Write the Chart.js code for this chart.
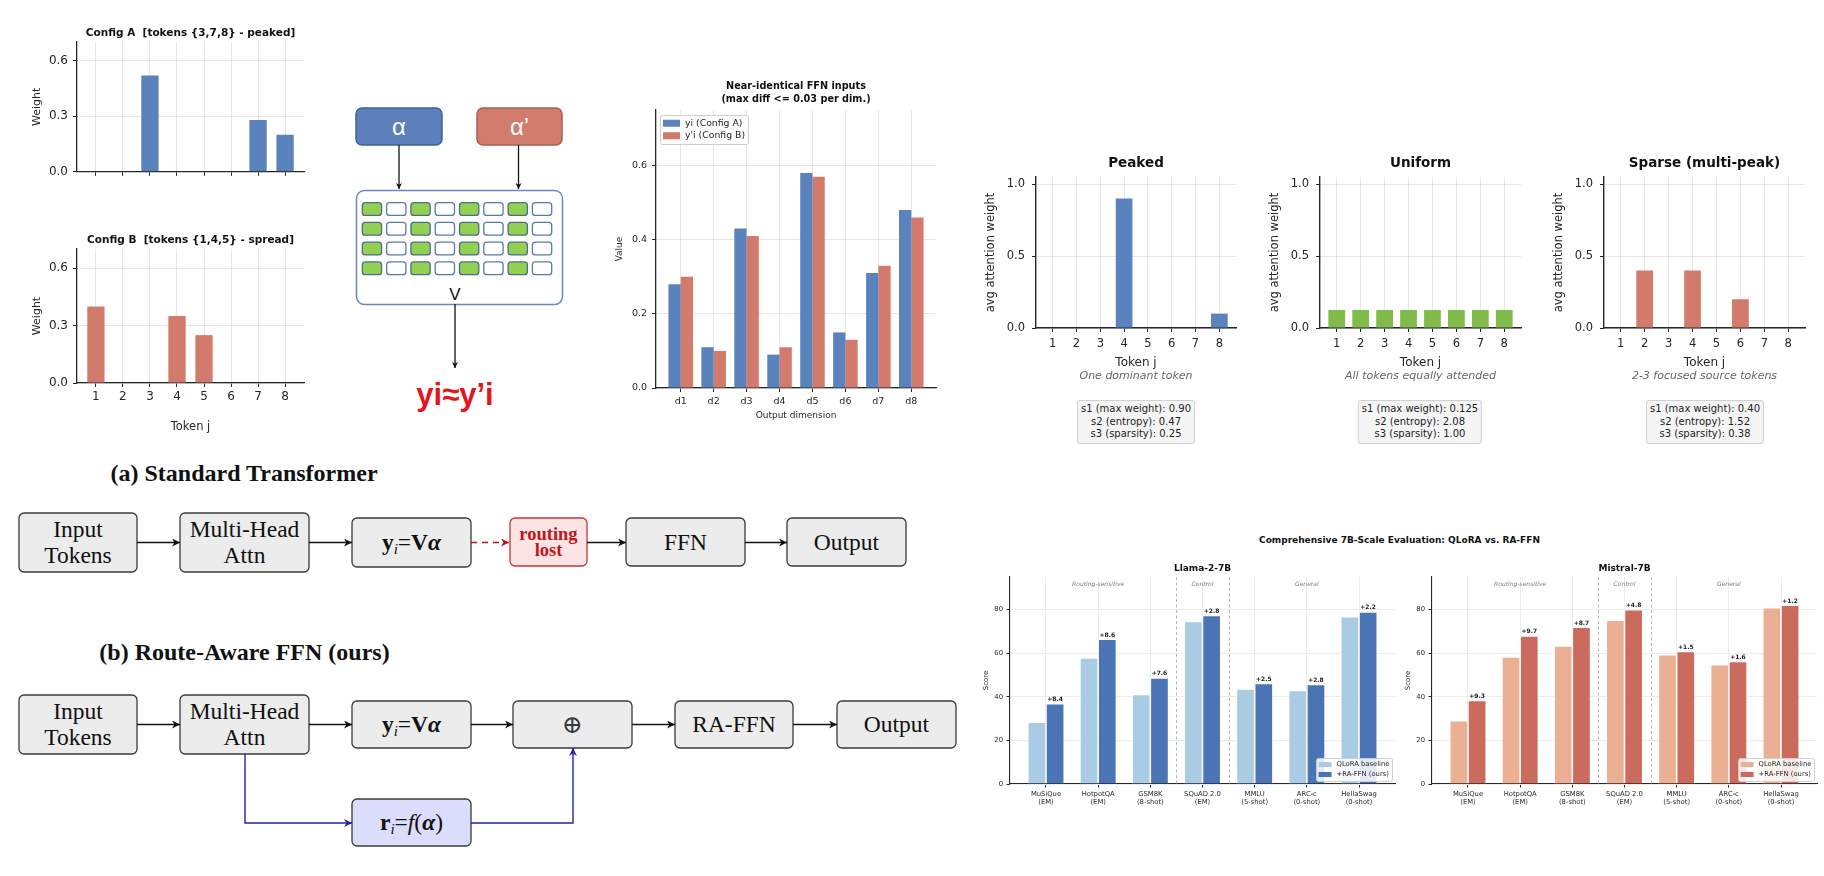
<!DOCTYPE html>
<html>
<head>
<meta charset="utf-8">
<title>Route-aware FFN figure</title>
<script src="https://cdn.jsdelivr.net/npm/chart.js@4.4.1/dist/chart.umd.min.js"></script>
<style>
  html, body { margin: 0; padding: 0; background: #fff; }
  body { position: relative; width: 1824px; height: 876px; overflow: hidden; font-family: "DejaVu Sans", sans-serif; color: #262626; }
  canvas, svg, .lbl, .stat { position: absolute; }
  svg { left: 0; top: 0; }
  .lbl { transform: translate(-50%, -50%); white-space: nowrap; }
  .sub { font-style: italic; font-size: 11px; color: #666; }
  .sup { font-weight: bold; font-size: 9px; color: #111; }
  .stat { transform: translateX(-50%); top: 400px; font-size: 10px; line-height: 12.7px; text-align: center; white-space: nowrap;
          padding: 2px 3px; border: 1px solid #d0d0d0; border-radius: 3px; background: #f5f5f5; color: #222; }
</style>
</head>
<body>

<svg width="1824" height="876" viewBox="0 0 1824 876" font-family="Liberation Serif, serif">
  <defs>
    <marker id="ah" viewBox="0 0 10 10" refX="10" refY="5" markerWidth="8" markerHeight="8" markerUnits="userSpaceOnUse" orient="auto">
      <path d="M0,0 L10,5 L0,10 L3,5 z" fill="#111"/>
    </marker>
    <marker id="ahSmall" viewBox="0 0 10 10" refX="10" refY="5" markerWidth="6" markerHeight="6" markerUnits="userSpaceOnUse" orient="auto">
      <path d="M0,0 L10,5 L0,10 L3,5 z" fill="#111"/>
    </marker>
    <marker id="ahRed" viewBox="0 0 10 10" refX="10" refY="5" markerWidth="8" markerHeight="8" markerUnits="userSpaceOnUse" orient="auto">
      <path d="M0,0 L10,5 L0,10 L3,5 z" fill="#b3151d"/>
    </marker>
    <marker id="ahBlue" viewBox="0 0 10 10" refX="10" refY="5" markerWidth="8" markerHeight="8" markerUnits="userSpaceOnUse" orient="auto">
      <path d="M0,0 L10,5 L0,10 L3,5 z" fill="#2323a8"/>
    </marker>
  </defs>

  <!-- alpha -> V -> y sketch -->
  <rect x="356" y="108" width="86" height="37" rx="6" fill="#5b80bc" stroke="#40629c" stroke-width="1.5"/>
  <text x="399" y="135" text-anchor="middle" fill="#fff" font-family="Liberation Sans" font-size="24">α</text>
  <rect x="477" y="108" width="85" height="37" rx="6" fill="#d17c6c" stroke="#a95d50" stroke-width="1.5"/>
  <text x="519.5" y="135" text-anchor="middle" fill="#fff" font-family="Liberation Sans" font-size="24">α’</text>
  <line x1="399" y1="145" x2="399" y2="189" stroke="#111" stroke-width="1.3" marker-end="url(#ahSmall)"/>
  <line x1="518.5" y1="145" x2="518.5" y2="189" stroke="#111" stroke-width="1.3" marker-end="url(#ahSmall)"/>
  <rect x="356.5" y="190.5" width="206" height="114" rx="8" fill="#fff" stroke="#6a86bd" stroke-width="1.5"/>
  <g id="cells"></g>
  <text x="455" y="300" text-anchor="middle" fill="#111" font-family="Liberation Sans" font-size="17">V</text>
  <line x1="455" y1="304" x2="455" y2="368" stroke="#111" stroke-width="1.3" marker-end="url(#ahSmall)"/>
  <text x="455" y="405" text-anchor="middle" fill="#e3161e" font-family="Liberation Sans" font-weight="bold" font-size="31">yi≈y’i</text>

  <!-- (a) standard transformer -->
  <text x="244" y="481" text-anchor="middle" font-size="24" font-weight="bold" fill="#111">(a) Standard Transformer</text>
  <g fill="#ececec" stroke="#3a3a3a" stroke-width="1.3">
    <rect x="19" y="513" width="118" height="59" rx="5"/>
    <rect x="180" y="513" width="129" height="59" rx="5"/>
    <rect x="352" y="518" width="119" height="49" rx="5"/>
    <rect x="626" y="518" width="119" height="48" rx="5"/>
    <rect x="787" y="518" width="119" height="48" rx="5"/>
  </g>
  <rect x="510" y="518" width="77" height="48" rx="5" fill="#fbe4e4" stroke="#c8333b" stroke-width="1.3"/>
  <g stroke="#111" stroke-width="1.3" marker-end="url(#ah)">
    <line x1="137" y1="542.5" x2="180" y2="542.5"/>
    <line x1="309" y1="542.5" x2="352" y2="542.5"/>
    <line x1="587" y1="542.5" x2="626" y2="542.5"/>
    <line x1="745" y1="542.5" x2="787" y2="542.5"/>
  </g>
  <line x1="471" y1="542.5" x2="509" y2="542.5" stroke="#b3151d" stroke-width="1.4" stroke-dasharray="6 5" marker-end="url(#ahRed)"/>
  <g font-size="23.5" fill="#111" text-anchor="middle">
    <text x="78" y="537">Input</text>
    <text x="78" y="563">Tokens</text>
    <text x="244.5" y="537">Multi-Head</text>
    <text x="244.5" y="563">Attn</text>
    <text x="411.5" y="550"><tspan font-weight="bold">y</tspan><tspan font-style="italic" font-size="15" dy="4">i</tspan><tspan dy="-4">=</tspan><tspan font-weight="bold">V</tspan><tspan font-weight="bold" font-style="italic">α</tspan></text>
    <text x="685.5" y="550">FFN</text>
    <text x="846.5" y="550">Output</text>
  </g>
  <g font-size="18.5" font-weight="bold" fill="#c0151f" text-anchor="middle">
    <text x="548.5" y="540">routing</text>
    <text x="548.5" y="556">lost</text>
  </g>

  <!-- (b) route-aware FFN -->
  <text x="244.5" y="660" text-anchor="middle" font-size="24" font-weight="bold" fill="#111">(b) Route-Aware FFN (ours)</text>
  <g fill="#ececec" stroke="#3a3a3a" stroke-width="1.3">
    <rect x="19" y="695" width="118" height="59" rx="5"/>
    <rect x="180" y="695" width="129" height="59" rx="5"/>
    <rect x="352" y="701" width="119" height="47" rx="5"/>
    <rect x="513" y="701" width="119" height="47" rx="5"/>
    <rect x="675" y="701" width="118" height="47" rx="5"/>
    <rect x="837" y="701" width="119" height="47" rx="5"/>
  </g>
  <rect x="352" y="799" width="119" height="47" rx="5" fill="#dcdcfc" stroke="#3a3a3a" stroke-width="1.3"/>
  <g stroke="#111" stroke-width="1.3" marker-end="url(#ah)">
    <line x1="137" y1="724.5" x2="180" y2="724.5"/>
    <line x1="309" y1="724.5" x2="352" y2="724.5"/>
    <line x1="471" y1="724.5" x2="513" y2="724.5"/>
    <line x1="632" y1="724.5" x2="675" y2="724.5"/>
    <line x1="793" y1="724.5" x2="837" y2="724.5"/>
  </g>
  <g stroke="#2323a8" stroke-width="1.4" fill="none" marker-end="url(#ahBlue)">
    <polyline points="245,754 245,823 352,823"/>
    <polyline points="471,823 573,823 573,748"/>
  </g>
  <g font-size="23.5" fill="#111" text-anchor="middle">
    <text x="78" y="719">Input</text>
    <text x="78" y="745">Tokens</text>
    <text x="244.5" y="719">Multi-Head</text>
    <text x="244.5" y="745">Attn</text>
    <text x="411.5" y="732"><tspan font-weight="bold">y</tspan><tspan font-style="italic" font-size="15" dy="4">i</tspan><tspan dy="-4">=</tspan><tspan font-weight="bold">V</tspan><tspan font-weight="bold" font-style="italic">α</tspan></text>
    <text x="572.5" y="733" font-family="DejaVu Serif" font-size="25" fill="#3a3a3a">⊕</text>
    <text x="734" y="732">RA-FFN</text>
    <text x="896.5" y="732">Output</text>
    <text x="411.5" y="830"><tspan font-weight="bold">r</tspan><tspan font-style="italic" font-size="15" dy="4">i</tspan><tspan dy="-4">=</tspan><tspan font-style="italic">f</tspan>(<tspan font-weight="bold" font-style="italic">α</tspan>)</text>
  </g>
</svg>

<canvas id="cfgA"></canvas>
<canvas id="cfgB"></canvas>
<canvas id="ffn"></canvas>
<canvas id="peaked"></canvas>
<canvas id="uniform"></canvas>
<canvas id="sparse"></canvas>
<canvas id="llama"></canvas>
<canvas id="mistral"></canvas>

<div class="lbl sub" id="note0" style="left:1136px; top:375px;"></div>
<div class="lbl sub" id="note1" style="left:1420.5px; top:375px;"></div>
<div class="lbl sub" id="note2" style="left:1704.5px; top:375px;"></div>
<div class="stat" id="stat0" style="left:1136px;"></div>
<div class="stat" id="stat1" style="left:1420px;"></div>
<div class="stat" id="stat2" style="left:1705px;"></div>
<div class="lbl sup" style="left:1399.5px; top:540px;">Comprehensive 7B-Scale Evaluation: QLoRA vs. RA-FFN</div>

<script>
// ---------- data ----------
const tokens = ['1', '2', '3', '4', '5', '6', '7', '8'];
const weightsA = [0, 0, 0.52, 0, 0, 0, 0.28, 0.20];
const weightsB = [0.40, 0, 0, 0.35, 0.25, 0, 0, 0];

const dims = ['d1', 'd2', 'd3', 'd4', 'd5', 'd6', 'd7', 'd8'];
const yiA = [0.28, 0.11, 0.43, 0.09, 0.58, 0.15, 0.31, 0.48];
const yiB = [0.30, 0.10, 0.41, 0.11, 0.57, 0.13, 0.33, 0.46];

const peaked = [0, 0, 0, 0.90, 0, 0, 0, 0.10];
const uniform = [0.125, 0.125, 0.125, 0.125, 0.125, 0.125, 0.125, 0.125];
const sparse = [0, 0.40, 0, 0.40, 0, 0.20, 0, 0];
const patternNotes = ['One dominant token', 'All tokens equally attended', '2-3 focused source tokens'];
const statsPeaked = ['s1 (max weight): 0.90', 's2 (entropy): 0.47', 's3 (sparsity): 0.25'];
const statsUniform = ['s1 (max weight): 0.125', 's2 (entropy): 2.08', 's3 (sparsity): 1.00'];
const statsSparse = ['s1 (max weight): 0.40', 's2 (entropy): 1.52', 's3 (sparsity): 0.38'];

const benchmarks = [['MuSiQue', '(EM)'], ['HotpotQA', '(EM)'], ['GSM8K', '(8-shot)'], ['SQuAD 2.0', '(EM)'],
                    ['MMLU', '(5-shot)'], ['ARC-c', '(0-shot)'], ['HellaSwag', '(0-shot)']];
const groupNames = ['Routing-sensitive', 'Control', 'General'];
const groupSpans = [[1, 3], [4, 4], [5, 7]];
const llamaBase = [28.4, 57.8, 41.1, 74.6, 43.6, 42.9, 76.8];
const llamaRA = [36.8, 66.4, 48.7, 77.4, 46.1, 45.7, 79.0];
const llamaGain = ['+8.4', '+8.6', '+7.6', '+2.8', '+2.5', '+2.8', '+2.2'];
const mistralBase = [29.0, 58.3, 63.3, 75.2, 59.3, 54.7, 80.9];
const mistralRA = [38.3, 68.0, 72.0, 80.0, 60.8, 56.3, 82.1];
const mistralGain = ['+9.3', '+9.7', '+8.7', '+4.8', '+1.5', '+1.6', '+1.2'];

// value-matrix pattern of the V sketch (g = highlighted column)
const vColumns = ['g', 'w', 'g', 'w', 'g', 'w', 'g', 'w'];
const vRows = 4;

// ---------- style ----------
const INK = '#262626';
const BLUE = '#5a82bc';
const RED = '#d27b6c';
const GREEN = '#80bb4c';
const GRID_ON_TOP = 'rgba(205,205,205,0.5)';

Chart.defaults.font.family = "'DejaVu Sans', sans-serif";
Chart.defaults.color = INK;

// ---------- small helpers ----------
function place(id, plot, m) {
  const cv = document.getElementById(id);
  cv.width = Math.round(plot[2] - plot[0] + m.l + m.r);
  cv.height = Math.round(plot[3] - plot[1] + m.t + m.b);
  cv.style.left = (plot[0] - m.l) + 'px';
  cv.style.top = (plot[1] - m.t) + 'px';
  return cv;
}

function points(values) {
  return values.map((v, i) => ({ x: i + 1, y: v }));
}

function boxLegend(o) {
  return {
    id: 'boxLegend',
    afterDraw(chart) {
      const { ctx, chartArea: a } = chart;
      const sets = chart.data.datasets;
      ctx.save();
      ctx.font = o.size + "px 'DejaVu Sans'";
      const tw = Math.max(...sets.map((d) => ctx.measureText(d.label).width));
      const w = o.pad * 2 + o.sw + o.gap + tw + 2;
      const h = o.pad * 2 + o.row * sets.length;
      const x = o.corner === 'tl' ? a.left + o.inset[0] : a.right - o.inset[0] - w;
      const y = o.corner === 'tl' ? a.top + o.inset[1] : a.bottom - o.inset[1] - h;
      ctx.fillStyle = 'rgba(255,255,255,0.85)';
      ctx.strokeStyle = '#cfcfcf';
      ctx.lineWidth = 1;
      ctx.beginPath();
      ctx.roundRect(x + 0.5, y + 0.5, w, h, 2);
      ctx.fill();
      ctx.stroke();
      sets.forEach((d, i) => {
        const cy = y + o.pad + o.row * (i + 0.5);
        ctx.fillStyle = d.backgroundColor;
        ctx.fillRect(x + o.pad + 1, cy - o.sh / 2, o.sw, o.sh);
        ctx.fillStyle = INK;
        ctx.textBaseline = 'middle';
        ctx.fillText(d.label, x + o.pad + 1 + o.sw + o.gap, cy);
      });
      ctx.restore();
    }
  };
}

function gainNotes(labels, size) {
  return {
    id: 'gainNotes',
    afterDatasetsDraw(chart) {
      const { ctx } = chart;
      ctx.save();
      ctx.font = 'bold ' + size + "px 'DejaVu Sans'";
      ctx.fillStyle = '#1a1a1a';
      ctx.textAlign = 'center';
      ctx.textBaseline = 'bottom';
      chart.getDatasetMeta(1).data.forEach((bar, i) => ctx.fillText(labels[i], bar.x, bar.y - 1));
      ctx.restore();
    }
  };
}

function groupBands(names, spans, size) {
  return {
    id: 'groupBands',
    beforeDatasetsDraw(chart) {
      const { ctx, chartArea: a } = chart;
      const x = chart.scales.x;
      ctx.save();
      ctx.strokeStyle = '#b5b5b5';
      ctx.lineWidth = 1;
      ctx.setLineDash([3, 2.5]);
      spans.slice(0, -1).forEach((s) => {
        const px = Math.round(x.getPixelForValue(s[1] + 0.5)) + 0.5;
        ctx.beginPath();
        ctx.moveTo(px, a.top);
        ctx.lineTo(px, a.bottom);
        ctx.stroke();
      });
      ctx.setLineDash([]);
      ctx.font = 'italic ' + size + "px 'DejaVu Sans'";
      ctx.fillStyle = '#7a7a7a';
      ctx.textAlign = 'center';
      ctx.textBaseline = 'middle';
      names.forEach((n, i) => ctx.fillText(n, x.getPixelForValue((spans[i][0] + spans[i][1]) / 2), a.top + 7));
      ctx.restore();
    }
  };
}

// generic matplotlib-like bar panel on a numeric index axis
function barPanel(id, plot, m, s) {
  const canvas = place(id, plot, m);
  const titleBlock = s.title.lines * s.title.size * s.title.lh;
  return new Chart(canvas, {
    type: 'bar',
    data: { datasets: s.datasets },
    options: {
      responsive: false,
      animation: false,
      events: [],
      layout: { padding: { top: 0, right: m.r, bottom: 0, left: 0 } },
      plugins: {
        legend: { display: false },
        tooltip: { enabled: false },
        title: {
          display: true,
          fullSize: false,
          text: s.title.text,
          color: '#111',
          font: { size: s.title.size, weight: 'bold', lineHeight: s.title.lh },
          padding: { top: 0, bottom: m.t - titleBlock },
        },
      },
      scales: {
        x: {
          type: 'linear',
          min: s.xmin,
          max: s.xmax,
          offset: false,
          z: s.z,
          afterBuildTicks: (sc) => { sc.ticks = s.labels.map((_, i) => ({ value: i + 1 })); },
          afterFit: (sc) => { sc.height = m.b; },
          grid: { offset: false, color: s.grid, tickColor: INK, tickLength: s.tickLen },
          border: { color: INK, width: s.spine },
          ticks: {
            display: s.xLabels,
            autoSkip: false,
            maxRotation: 0,
            padding: s.xPad,
            color: INK,
            font: { size: s.tick, lineHeight: 1.2 },
            callback: (v) => s.labels[v - 1],
          },
          title: {
            display: !!s.xTitle,
            text: s.xTitle,
            color: INK,
            font: { size: s.xTitleSize },
            padding: { top: 0, bottom: s.xTitlePad },
          },
        },
        y: {
          min: 0,
          max: s.ymax,
          z: s.z,
          afterFit: (sc) => { sc.width = m.l; },
          grid: { color: s.grid, tickColor: INK, tickLength: s.tickLen },
          border: { color: INK, width: s.spine },
          ticks: {
            stepSize: s.step,
            includeBounds: false,
            padding: s.yPad,
            color: INK,
            font: { size: s.tick },
            callback: (v) => v.toFixed(s.dec),
          },
          title: {
            display: true,
            text: s.yTitle,
            color: INK,
            font: { size: s.yTitleSize },
            padding: { top: s.yTitlePad, bottom: 0 },
          },
        },
      },
    },
    plugins: s.extra || [],
  });
}

function oneBarSet(values, color, pct) {
  return [{ label: 'weight', data: points(values), backgroundColor: color, borderWidth: 0, categoryPercentage: pct, barPercentage: 1 }];
}

// ---------- config A / config B ----------
const configPanel = {
  xmin: 0.3, xmax: 8.7, labels: tokens, ymax: 0.7, step: 0.3, dec: 1,
  z: 1, grid: GRID_ON_TOP, tickLen: 4, spine: 1.3, tick: 12, xPad: 3, yPad: 5,
  yTitle: 'Weight', yTitleSize: 11, yTitlePad: 4.4,
};
barPanel('cfgA', [77, 42, 304, 176], { l: 51, t: 15, r: 12, b: 8 }, Object.assign({}, configPanel, {
  title: { text: 'Config A  [tokens {3,7,8} - peaked]', size: 10.5, lines: 1, lh: 1.2 },
  datasets: oneBarSet(weightsA, BLUE, 0.64),
  xLabels: false,
}));
barPanel('cfgB', [77, 249, 304, 383], { l: 51, t: 15, r: 12, b: 53 }, Object.assign({}, configPanel, {
  title: { text: 'Config B  [tokens {1,4,5} - spread]', size: 10.5, lines: 1, lh: 1.2 },
  datasets: oneBarSet(weightsB, RED, 0.64),
  xLabels: true, xTitle: 'Token j', xTitleSize: 11.5, xTitlePad: 2.1,
}));

// ---------- near-identical FFN inputs ----------
barPanel('ffn', [656, 110, 936, 388], { l: 46, t: 30, r: 14, b: 36 }, {
  title: { text: ['Near-identical FFN inputs', '(max diff <= 0.03 per dim.)'], size: 9.7, lines: 2, lh: 1.35 },
  datasets: [
    { label: 'yi (Config A)', data: points(yiA), backgroundColor: BLUE, borderWidth: 0, categoryPercentage: 0.745, barPercentage: 1 },
    { label: "y'i (Config B)", data: points(yiB), backgroundColor: RED, borderWidth: 0, categoryPercentage: 0.745, barPercentage: 1 },
  ],
  xmin: 0.25, xmax: 8.75, labels: dims, ymax: 0.75, step: 0.2, dec: 1,
  z: 1, grid: GRID_ON_TOP, tickLen: 4, spine: 1.3, tick: 9.5, xPad: 4.3, yPad: 5,
  xLabels: true, xTitle: 'Output dimension', xTitleSize: 9, xTitlePad: 2.6,
  yTitle: 'Value', yTitleSize: 9, yTitlePad: 4.6,
  extra: [boxLegend({ corner: 'tl', inset: [4, 5], pad: 2, row: 12.5, sw: 17, sh: 7, gap: 5, size: 9.3 })],
});

// ---------- attention patterns ----------
const patternPanel = {
  xmin: 0.3, xmax: 8.7, labels: tokens, ymax: 1.05, step: 0.5, dec: 1,
  z: 1, grid: GRID_ON_TOP, tickLen: 4, spine: 1.4, tick: 11.5, xPad: 5, yPad: 7,
  xLabels: true, xTitle: 'Token j', xTitleSize: 12, xTitlePad: 1.8,
  yTitle: 'avg attention weight', yTitleSize: 11.5, yTitlePad: 3.1,
};
const patternMargins = { l: 55, t: 22, r: 14, b: 44 };
barPanel('peaked', [1036, 177, 1236, 328], patternMargins, Object.assign({}, patternPanel, {
  title: { text: 'Peaked', size: 13.5, lines: 1, lh: 1.2 },
  datasets: oneBarSet(peaked, BLUE, 0.7),
}));
barPanel('uniform', [1320, 177, 1521, 328], patternMargins, Object.assign({}, patternPanel, {
  title: { text: 'Uniform', size: 13.5, lines: 1, lh: 1.2 },
  datasets: oneBarSet(uniform, GREEN, 0.7),
}));
barPanel('sparse', [1604, 177, 1805, 328], patternMargins, Object.assign({}, patternPanel, {
  title: { text: 'Sparse (multi-peak)', size: 13.5, lines: 1, lh: 1.2 },
  datasets: oneBarSet(sparse, RED, 0.7),
}));

[statsPeaked, statsUniform, statsSparse].forEach((lines, i) => {
  document.getElementById('stat' + i).innerHTML = lines.join('<br>');
  document.getElementById('note' + i).textContent = patternNotes[i];
});

// ---------- 7B evaluation ----------
function evalPanel(id, plot, name, base, ra, gains, colors) {
  return barPanel(id, plot, { l: 30, t: 14, r: 6, b: 31 }, {
    title: { text: name, size: 9, lines: 1, lh: 1.2 },
    datasets: [
      { label: 'QLoRA baseline', data: points(base), backgroundColor: colors[0], borderColor: 'rgba(255,255,255,0.9)', borderWidth: 0.8, borderSkipped: 'start', categoryPercentage: 0.7, barPercentage: 1 },
      { label: '+RA-FFN (ours)', data: points(ra), backgroundColor: colors[1], borderColor: 'rgba(255,255,255,0.9)', borderWidth: 0.8, borderSkipped: 'start', categoryPercentage: 0.7, barPercentage: 1 },
    ],
    xmin: 0.31, xmax: 7.69, labels: benchmarks, ymax: 95, step: 20, dec: 0,
    z: 0, grid: '#ececec', tickLen: 3.5, spine: 1.1, tick: 6.8, xPad: 2.5, yPad: 3.5,
    xLabels: true, xTitle: '',
    yTitle: 'Score', yTitleSize: 7, yTitlePad: 1.8,
    extra: [
      groupBands(groupNames, groupSpans, 6),
      gainNotes(gains, 6),
      boxLegend({ corner: 'br', inset: [3, 3], pad: 1.5, row: 10, sw: 13, sh: 5, gap: 5, size: 6.8 }),
    ],
  });
}
evalPanel('llama', [1010, 577, 1395, 784], 'Llama-2-7B', llamaBase, llamaRA, llamaGain, ['#a9cbe3', '#4a74b4']);
evalPanel('mistral', [1432, 577, 1817, 784], 'Mistral-7B', mistralBase, mistralRA, mistralGain, ['#ebb093', '#cb6b5d']);

// ---------- V matrix cells of the sketch ----------
const NS = 'http://www.w3.org/2000/svg';
const cellLayer = document.getElementById('cells');
for (let r = 0; r < vRows; r++) {
  vColumns.forEach((kind, c) => {
    const cell = document.createElementNS(NS, 'rect');
    cell.setAttribute('x', 362.3 + c * 24.3);
    cell.setAttribute('y', 202.7 + r * 19.75);
    cell.setAttribute('width', 19.3);
    cell.setAttribute('height', 12.7);
    cell.setAttribute('rx', 3);
    cell.setAttribute('fill', kind === 'g' ? '#92d050' : '#ffffff');
    cell.setAttribute('stroke', kind === 'g' ? '#4f6b8f' : '#5a79b0');
    cell.setAttribute('stroke-width', 1.3);
    cellLayer.appendChild(cell);
  });
}
</script>
</body>
</html>
